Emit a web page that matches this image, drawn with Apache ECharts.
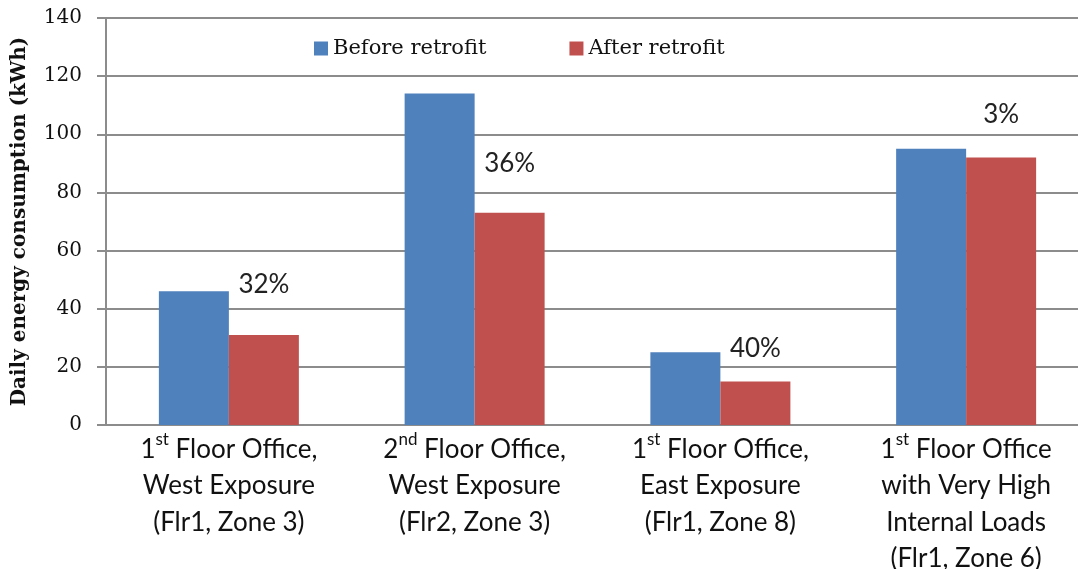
<!DOCTYPE html>
<html>
<head>
<meta charset="utf-8">
<script src="https://cdn.jsdelivr.net/npm/echarts@6/dist/echarts.min.js"></script>
<style>
  html, body { margin: 0; padding: 0; background: #fff; }
  #main { width: 1078px; height: 569px; }
</style>
</head>
<body>
<div id="main"></div>
<script>
// office zones
var categories = [
  '1st Floor Office,\nWest Exposure\n(Flr1, Zone 3)',
  '2nd Floor Office,\nWest Exposure\n(Flr2, Zone 3)',
  '1st Floor Office,\nEast Exposure\n(Flr1, Zone 8)',
  '1st Floor Office\nwith Very High\nInternal Loads\n(Flr1, Zone 6)'
];
var beforeRetrofit = [46, 114, 25, 95];   // kWh
var afterRetrofit = [31, 73, 15, 92];
var savings = ['32%', '36%', '40%', '3%'];
var yTicks = [0, 20, 40, 60, 80, 100, 120, 140];

// how far the % text sits above each red bar
var labelGap = [37, 36, 20, 30];

var chart = echarts.init(document.getElementById('main'));

var afterData = afterRetrofit.map(function (v, i) {
  return {
    value: v,
    label: { distance: labelGap[i] }
  };
});

var option = {
  backgroundColor: '#fff',
  animation: false,
  color: ['#4F81BD', '#C0504D'],
  legend: {
    top: 33,
    left: 309,
    itemWidth: 14,
    itemHeight: 14,
    itemGap: 83,
    icon: 'rect',
    textStyle: {
      fontFamily: 'DejaVu Serif',
      fontSize: 21,
      color: '#111'
    },
    data: ['Before retrofit', 'After retrofit']
  },
  grid: {
    left: 106,
    top: 18,
    width: 983,
    height: 407,
    outerBoundsMode: 'none',
    containLabel: false
  },
  xAxis: {
    type: 'category',
    data: categories,
    axisLine: { lineStyle: { color: '#8c8c8c', width: 2 } },
    axisTick: { show: false },
    axisLabel: {
      interval: 0,
      margin: 6,
      fontFamily: 'Lato',
      fontSize: 26,
      lineHeight: 36.5,
      color: '#111',
      formatter: function (v) {
        return v.replace(/^(\d)(st|nd)/, '$1{sup|$2}');
      },
      rich: {
        sup: {
          fontFamily: 'Lato',
          fontSize: 17,
          lineHeight: 28,
          verticalAlign: 'top',
          color: '#111'
        }
      }
    }
  },
  yAxis: {
    type: 'value',
    min: yTicks[0],
    max: yTicks[yTicks.length - 1],
    interval: 20,
    name: 'Daily energy consumption (kWh)',
    nameLocation: 'middle',
    nameGap: 76,
    nameTextStyle: {
      fontFamily: 'DejaVu Serif',
      fontWeight: 'bold',
      fontSize: 20,
      color: '#111'
    },
    axisLine: { show: true, lineStyle: { color: '#8c8c8c', width: 2 } },
    axisTick: { show: true, length: 9, lineStyle: { color: '#8c8c8c', width: 2 } },
    splitLine: { lineStyle: { color: '#8c8c8c', width: 2 } },
    axisLabel: {
      margin: 24,
      fontFamily: 'DejaVu Serif',
      fontSize: 20,
      color: '#111'
    }
  },
  series: [
    {
      name: 'Before retrofit',
      type: 'bar',
      barWidth: 70,
      barGap: '0%',
      data: beforeRetrofit
    },
    {
      name: 'After retrofit',
      type: 'bar',
      barWidth: 70,
      data: afterData,
      label: {
        show: true,
        position: 'top',
        fontFamily: 'Lato',
        fontSize: 26,
        color: '#222',
        formatter: function (p) { return savings[p.dataIndex]; }
      }
    }
  ]
};

chart.setOption(option);
</script>
</body>
</html>
